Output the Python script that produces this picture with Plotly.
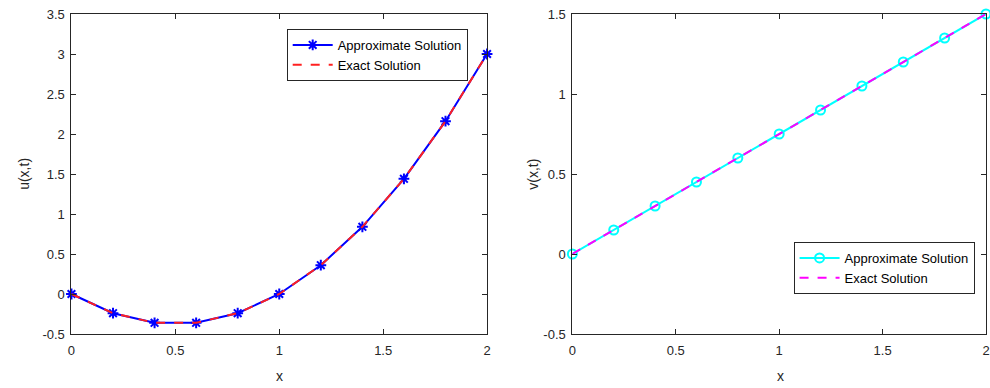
import plotly.graph_objects as go

x_vals = [0, 0.2, 0.4, 0.6, 0.8, 1.0, 1.2, 1.4, 1.6, 1.8, 2.0]
u_approx = [0, -0.24, -0.36, -0.36, -0.24, 0, 0.36, 0.84, 1.44, 2.16, 3.0]
u_exact = [0, -0.24, -0.36, -0.36, -0.24, 0, 0.36, 0.84, 1.44, 2.16, 3.0]
v_approx = [0, 0.15, 0.30, 0.45, 0.60, 0.75, 0.90, 1.05, 1.20, 1.35, 1.50]
v_exact = [0, 0.15, 0.30, 0.45, 0.60, 0.75, 0.90, 1.05, 1.20, 1.35, 1.50]
x_ticks = [0, 0.5, 1, 1.5, 2]
x_tick_text = ["0", "0.5", "1", "1.5", "2"]
u_ticks = [-0.5, 0, 0.5, 1, 1.5, 2, 2.5, 3, 3.5]
u_tick_text = ["-0.5", "0", "0.5", "1", "1.5", "2", "2.5", "3", "3.5"]
v_ticks = [-0.5, 0, 0.5, 1, 1.5]
v_tick_text = ["-0.5", "0", "0.5", "1", "1.5"]

FONT = "Liberation Sans, Arial, sans-serif"
AX = "#262626"
W, H = 990, 388
T, B = 14, 54

fig = go.Figure()
fig.add_trace(go.Scatter(x=x_vals, y=u_approx, mode="lines+markers", name="Approximate Solution",
                         line=dict(color="#0000FF", width=2), cliponaxis=False,
                         marker=dict(symbol="asterisk-open", size=9, color="#0000FF",
                                     line=dict(color="#0000FF", width=2)),
                         xaxis="x", yaxis="y", legend="legend"))
fig.add_trace(go.Scatter(x=x_vals, y=u_exact, mode="lines", name="Exact Solution",
                         line=dict(color="#FF2020", width=2, dash="dash"), cliponaxis=False,
                         xaxis="x", yaxis="y", legend="legend"))
fig.add_trace(go.Scatter(x=x_vals, y=v_approx, mode="lines+markers", name="Approximate Solution",
                         line=dict(color="#00FFFF", width=2), cliponaxis=False,
                         marker=dict(symbol="circle-open", size=9, color="#00FFFF",
                                     line=dict(color="#00FFFF", width=2)),
                         xaxis="x2", yaxis="y2", legend="legend2"))
fig.add_trace(go.Scatter(x=x_vals, y=v_exact, mode="lines", name="Exact Solution",
                         line=dict(color="#FF00FF", width=2, dash="dash"), cliponaxis=False,
                         xaxis="x2", yaxis="y2", legend="legend2"))

axis_common = dict(showline=True, linecolor=AX, linewidth=1, mirror="allticks",
                   ticks="inside", ticklen=5, tickcolor=AX, showgrid=False, zeroline=False,
                   tickfont=dict(family=FONT, size=13, color=AX))

fig.update_layout(
    width=W, height=H,
    margin=dict(l=0, r=0, t=T, b=B),
    paper_bgcolor="white", plot_bgcolor="white",
    font=dict(family=FONT, size=13, color=AX),
    xaxis=dict(domain=[68 / W, 487 / W], range=[0, 2], tickvals=x_ticks, ticktext=x_tick_text,
               anchor="y", ticklabelstandoff=4, **axis_common),
    yaxis=dict(domain=[0, 1], range=[-0.5, 3.5], tickvals=u_ticks, ticktext=u_tick_text,
               anchor="x", ticklabelstandoff=3, **axis_common),
    xaxis2=dict(domain=[573 / W, 1.0], range=[0, 2], tickvals=x_ticks, ticktext=x_tick_text,
                anchor="y2", ticklabelstandoff=4, **axis_common),
    yaxis2=dict(domain=[0, 1], range=[-0.5, 1.5], tickvals=v_ticks, ticktext=v_tick_text,
                anchor="x2", ticklabelstandoff=3, **axis_common),
    legend=dict(x=285 / W, y=(H - B - 29) / (H - T - B), xanchor="left", yanchor="top",
                bgcolor="white", bordercolor=AX, borderwidth=1, itemwidth=40,
                font=dict(family=FONT, size=13, color="#000000"), tracegroupgap=0),
    legend2=dict(x=796 / W, y=(H - B - 242) / (H - T - B), xanchor="left", yanchor="top",
                 bgcolor="white", bordercolor=AX, borderwidth=1, itemwidth=40,
                 font=dict(family=FONT, size=13, color="#000000"), tracegroupgap=0),
    showlegend=True,
)

annots = [
    dict(text="x", x=(68 + 487) / 2 / W, y=-(376 - (H - B)) / (H - T - B), xref="paper", yref="paper",
         showarrow=False, font=dict(family=FONT, size=14, color=AX), xanchor="center", yanchor="middle"),
    dict(text="x", x=(573 + 993) / 2 / W, y=-(376 - (H - B)) / (H - T - B), xref="paper", yref="paper",
         showarrow=False, font=dict(family=FONT, size=14, color=AX), xanchor="center", yanchor="middle"),
    dict(text="u(x,t)", x=20 / W, y=0.5, xref="paper", yref="paper", textangle=-90,
         showarrow=False, font=dict(family=FONT, size=14, color=AX), xanchor="center", yanchor="middle"),
    dict(text="v(x,t)", x=533 / W, y=0.5, xref="paper", yref="paper", textangle=-90,
         showarrow=False, font=dict(family=FONT, size=14, color=AX), xanchor="center", yanchor="middle"),
]
fig.update_layout(annotations=annots)

fig.write_html("out.html")
